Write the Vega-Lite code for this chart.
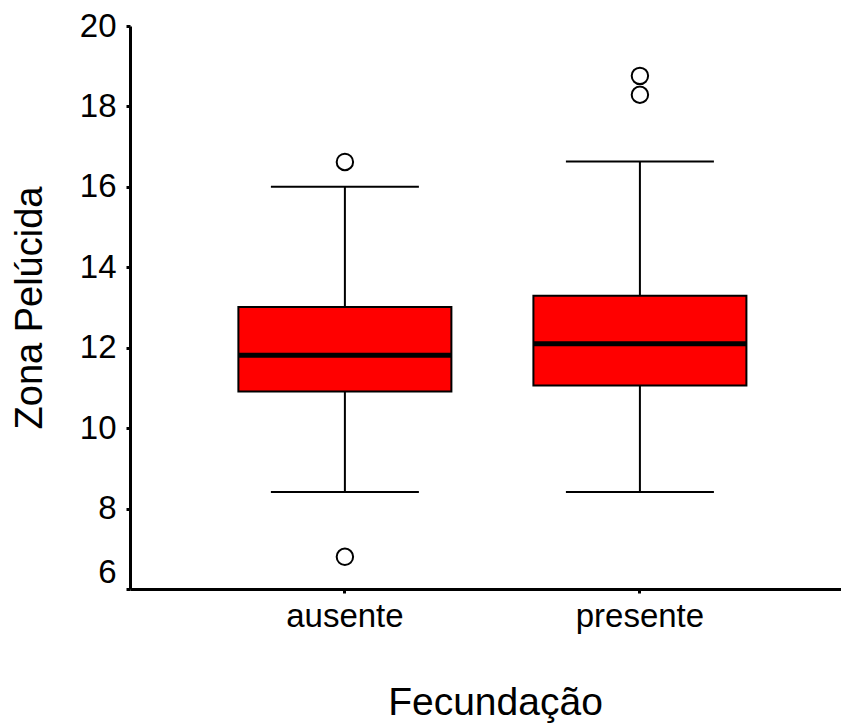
{
  "$schema": "https://vega.github.io/schema/vega-lite/v6.json",
  "width": 711,
  "height": 563,
  "autosize": {"type": "none"},
  "padding": {"left": 130, "top": 26, "right": 0, "bottom": 135},
  "background": "white",
  "config": {
    "view": {"stroke": null},
    "font": "Liberation Sans"
  },
  "datasets": {
    "stats": [
      {"Fecundação": "ausente", "lo": 8.41, "q1": 10.91, "med": 11.81, "q3": 13.01, "hi": 16.0},
      {"Fecundação": "presente", "lo": 8.41, "q1": 11.06, "med": 12.1, "q3": 13.29, "hi": 16.63}
    ],
    "outliers": [
      {"Fecundação": "ausente", "value": 16.62},
      {"Fecundação": "ausente", "value": 6.8},
      {"Fecundação": "presente", "value": 18.29},
      {"Fecundação": "presente", "value": 18.76}
    ]
  },
  "encoding": {
    "x": {
      "field": "Fecundação",
      "type": "nominal",
      "scale": {"domain": ["ausente", "presente"], "paddingInner": 0.278, "paddingOuter": 0.344, "align": 0.534},
      "axis": {
        "title": "Fecundação",
        "titleFontSize": 39,
        "titleFontWeight": "normal",
        "titleColor": "black",
        "titlePadding": 50,
        "titleX": 365,
        "labelFontSize": 33,
        "labelColor": "black",
        "labelAngle": 0,
        "labelPadding": 7,
        "domainColor": "black",
        "domainWidth": 3,
        "tickColor": "black",
        "tickSize": 4,
        "tickWidth": 3
      }
    }
  },
  "layer": [
    {
      "mark": {"type": "rule", "color": "black", "strokeWidth": 2},
      "encoding": {"y": {"datum": 20, "type": "quantitative"}, "x": null}
    },
    {
      "data": {"name": "stats"},
      "mark": {"type": "rule", "color": "black", "strokeWidth": 2},
      "encoding": {
        "y": {
          "field": "lo",
          "type": "quantitative",
          "scale": {"domain": [6, 20], "nice": false, "zero": false},
          "axis": {
            "title": "Zona Pelúcida",
            "titleFontSize": 38,
            "titleFontWeight": "normal",
            "titleColor": "black",
            "titlePadding": 30,
            "values": [6, 8, 10, 12, 14, 16, 18, 20],
            "grid": false,
            "labelFontSize": 33,
            "labelColor": "black",
            "labelPadding": 10,
            "labelOffset": {"condition": {"test": "datum.value === 6", "value": -17}, "value": 0},
            "domainColor": "black",
            "domainWidth": 3,
            "tickColor": "black",
            "tickSize": 4,
            "tickWidth": 3
          }
        },
        "y2": {"field": "hi"}
      }
    },
    {
      "data": {"name": "stats"},
      "mark": {"type": "bar", "fill": "#FF0000", "stroke": "black", "strokeWidth": 2},
      "encoding": {
        "y": {"field": "q1", "type": "quantitative"},
        "y2": {"field": "q3"}
      }
    },
    {
      "data": {"name": "stats"},
      "mark": {"type": "tick", "color": "black", "thickness": 5, "size": 213, "opacity": 1},
      "encoding": {"y": {"field": "med", "type": "quantitative"}}
    },
    {
      "data": {"name": "stats"},
      "mark": {"type": "tick", "color": "black", "thickness": 2, "size": 148, "opacity": 1},
      "encoding": {"y": {"field": "lo", "type": "quantitative"}}
    },
    {
      "data": {"name": "stats"},
      "mark": {"type": "tick", "color": "black", "thickness": 2, "size": 148, "opacity": 1},
      "encoding": {"y": {"field": "hi", "type": "quantitative"}}
    },
    {
      "data": {"name": "outliers"},
      "mark": {"type": "point", "shape": "circle", "filled": false, "fill": "white", "stroke": "black", "strokeWidth": 2, "size": 270, "opacity": 1},
      "encoding": {"y": {"field": "value", "type": "quantitative"}}
    }
  ]
}
